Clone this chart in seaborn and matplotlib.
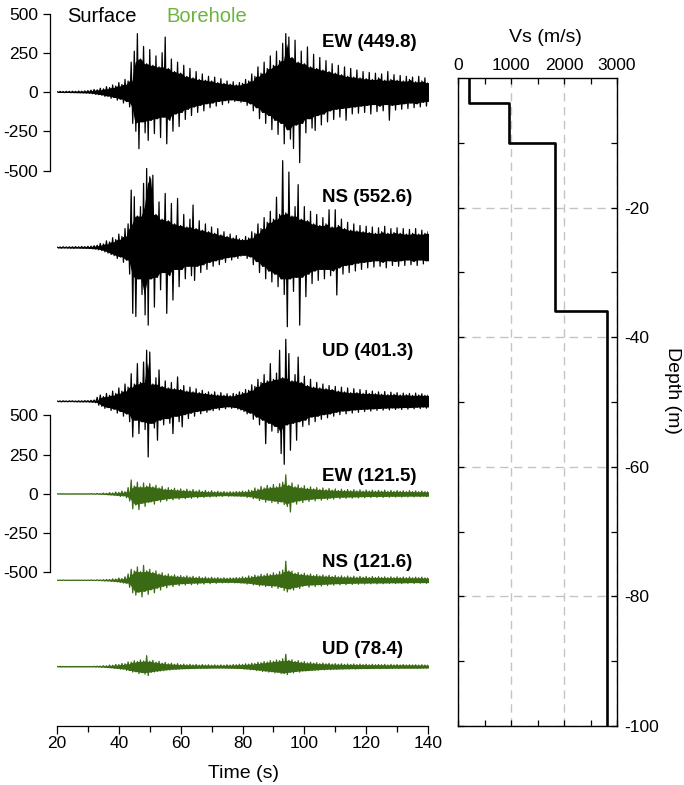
import numpy as np
import pandas as pd
import matplotlib
matplotlib.use("Agg")
import matplotlib.pyplot as plt
import seaborn as sns

sns.set_theme(style="ticks")
plt.rcParams["font.family"] = ["Liberation Sans", "DejaVu Sans"]
plt.rcParams["axes.unicode_minus"] = False
for key in ("text.color", "axes.labelcolor", "xtick.color", "ytick.color", "axes.edgecolor"):
    plt.rcParams[key] = "black"

# ---------------------------------------------------------------------------
# Acceleration records (gal): largest positive ("up") and negative ("lo")
# excursion in each second from 20 s to 140 s.
# ---------------------------------------------------------------------------
time_s = np.arange(20, 141)

ew_surf_up = [3, 4, 3, 4, 4, 5, 4, 6, 5, 7,
              9, 12, 16, 14, 24, 20, 34, 28, 45, 38,
              60, 48, 80, 70, 190, 260, 372, 210, 290, 180,
              270, 170, 230, 160, 250, 350, 150, 210, 130, 190,
              120, 170, 100, 150, 90, 130, 80, 115, 75, 100,
              70, 95, 60, 85, 55, 70, 50, 65, 45, 60,
              55, 80, 70, 115, 100, 160, 120, 190, 150, 230,
              170, 260, 200, 310, 372, 350, 220, 330, 190, 260,
              180, 287, 160, 240, 150, 220, 140, 200, 130, 180,
              120, 170, 110, 160, 100, 150, 95, 140, 90, 130,
              85, 125, 80, 120, 90, 115, 75, 130, 80, 110,
              75, 105, 70, 100, 80, 95, 65, 100, 70, 90,
              60]
ew_surf_lo = [3, 3, 4, 3, 5, 4, 5, 5, 6, 6,
              8, 11, 14, 17, 20, 28, 26, 40, 35, 52,
              45, 70, 60, 95, 200, 250, 361, 190, 260, 308,
              180, 265, 170, 290, 160, 330, 180, 250, 140, 220,
              130, 175, 110, 150, 95, 130, 85, 120, 75, 100,
              70, 90, 60, 80, 55, 70, 50, 60, 55, 65,
              60, 85, 75, 120, 100, 170, 130, 200, 150, 240,
              180, 270, 200, 330, 240, 300, 360, 210, 449.8, 200,
              260, 170, 230, 245, 150, 210, 140, 190, 120, 175,
              110, 160, 105, 180, 100, 140, 95, 135, 90, 130,
              85, 140, 80, 125, 90, 120, 80, 180, 85, 115,
              80, 110, 75, 105, 70, 100, 75, 95, 65, 90,
              60]

ns_surf_up = [3, 3, 4, 3, 4, 4, 5, 4, 6, 5,
              7, 8, 11, 14, 25, 22, 42, 35, 62, 50,
              85, 70, 120, 150, 365, 323, 200, 260, 408, 503,
              450, 460, 210, 290, 180, 344, 170, 280, 150, 312,
              140, 210, 130, 180, 270, 120, 170, 110, 150, 100,
              130, 90, 120, 80, 100, 70, 85, 60, 75, 55,
              50, 70, 60, 100, 90, 150, 120, 190, 160, 230,
              180, 320, 210, 552.6, 220, 480, 200, 260, 400, 180,
              260, 170, 230, 150, 210, 140, 190, 150, 240, 130,
              240, 140, 180, 120, 160, 110, 150, 105, 140, 100,
              135, 95, 130, 90, 125, 100, 135, 90, 120, 95,
              125, 90, 120, 85, 115, 90, 120, 85, 110, 90,
              100]
ns_surf_lo = [3, 4, 3, 4, 4, 5, 4, 5, 5, 6,
              7, 9, 10, 15, 20, 28, 36, 45, 52, 70,
              60, 95, 80, 170, 420, 440, 200, 300, 430, 495,
              200, 380, 190, 270, 160, 420, 180, 335, 140, 250,
              140, 200, 120, 180, 210, 120, 160, 110, 140, 95,
              120, 85, 110, 75, 95, 65, 80, 60, 70, 55,
              50, 70, 60, 110, 90, 160, 120, 200, 150, 220,
              170, 250, 200, 300, 505, 200, 280, 190, 495, 190,
              314, 170, 230, 150, 210, 140, 200, 140, 180, 150,
              303, 130, 170, 115, 160, 110, 150, 100, 140, 95,
              130, 90, 125, 85, 120, 95, 130, 85, 115, 90,
              120, 85, 115, 80, 110, 90, 115, 80, 105, 85,
              95]

ud_surf_up = [2, 2, 3, 2, 3, 3, 2, 3, 3, 4,
              4, 6, 8, 25, 40, 30, 50, 38, 65, 50,
              85, 65, 110, 90, 176, 110, 240, 120, 250, 325,
              314, 110, 150, 200, 95, 130, 85, 120, 80, 155,
              75, 100, 65, 90, 60, 80, 55, 70, 50, 60,
              45, 60, 40, 55, 38, 48, 35, 50, 45, 60,
              55, 75, 70, 105, 95, 140, 120, 170, 130, 240,
              140, 180, 325, 150, 395, 304, 130, 170, 282, 120,
              160, 100, 140, 90, 120, 85, 110, 80, 100, 75,
              95, 65, 90, 60, 85, 55, 80, 55, 75, 50,
              70, 50, 65, 48, 60, 45, 62, 42, 58, 45,
              55, 40, 52, 42, 50, 38, 52, 40, 48, 38,
              40]
ud_surf_lo = [2, 3, 2, 3, 2, 3, 3, 3, 4, 3,
              5, 5, 9, 25, 32, 45, 40, 58, 50, 75,
              65, 95, 80, 130, 227, 120, 206, 130, 180, 355,
              140, 170, 248, 120, 150, 110, 140, 206, 95, 130,
              163, 85, 110, 75, 95, 65, 80, 60, 70, 55,
              60, 45, 55, 40, 48, 35, 45, 40, 50, 55,
              65, 80, 75, 115, 100, 150, 120, 270, 140, 190,
              160, 200, 333, 401.3, 150, 312, 140, 248, 130, 160,
              120, 150, 100, 130, 95, 115, 85, 105, 80, 95,
              70, 85, 62, 80, 60, 75, 55, 70, 52, 65,
              50, 62, 48, 58, 46, 56, 44, 55, 42, 52,
              42, 52, 40, 50, 40, 48, 38, 46, 36, 44,
              36]

ew_bore_up = [1, 1, 1, 1, 1, 1, 1, 1, 1, 1,
              1, 2, 1, 3, 2, 5, 4, 8, 6, 12,
              10, 18, 14, 40, 89, 50, 75, 45, 70, 50,
              65, 45, 55, 38, 48, 30, 40, 28, 36, 25,
              32, 22, 30, 20, 28, 18, 24, 16, 22, 14,
              20, 13, 17, 12, 15, 11, 14, 12, 15, 14,
              18, 15, 25, 22, 38, 30, 48, 38, 55, 42,
              60, 45, 65, 75, 121.5, 55, 70, 45, 58, 40,
              52, 35, 45, 32, 40, 28, 38, 26, 35, 24,
              32, 22, 30, 21, 28, 20, 27, 19, 26, 18,
              25, 18, 24, 17, 23, 17, 24, 16, 22, 16,
              21, 16, 20, 15, 21, 15, 19, 14, 18, 14,
              16]
ew_bore_lo = [1, 1, 1, 1, 1, 1, 1, 1, 1, 1,
              1, 1, 2, 2, 3, 4, 6, 6, 9, 10,
              16, 12, 24, 45, 95, 70, 100, 60, 80, 55,
              50, 65, 42, 50, 35, 44, 30, 38, 26, 34,
              24, 30, 22, 28, 18, 25, 17, 22, 15, 20,
              14, 18, 12, 16, 11, 15, 12, 14, 13, 16,
              14, 22, 18, 30, 26, 42, 34, 52, 40, 55,
              46, 62, 50, 68, 80, 115, 52, 65, 44, 55,
              38, 48, 34, 44, 30, 40, 28, 36, 26, 33,
              22, 30, 21, 28, 20, 27, 19, 25, 18, 24,
              17, 23, 16, 22, 16, 22, 16, 21, 15, 20,
              15, 20, 15, 19, 14, 19, 14, 18, 14, 17,
              15]

ns_bore_up = [1, 1, 1, 1, 1, 1, 1, 1, 1, 1,
              1, 2, 1, 3, 2, 4, 5, 5, 9, 8,
              14, 11, 22, 40, 70, 60, 85, 55, 95, 60,
              70, 50, 60, 40, 48, 32, 40, 28, 35, 25,
              30, 22, 28, 20, 25, 18, 23, 16, 21, 15,
              19, 14, 17, 13, 16, 13, 15, 14, 17, 16,
              22, 18, 28, 24, 33, 28, 38, 32, 42, 36,
              48, 40, 55, 65, 121.6, 60, 58, 44, 50, 38,
              45, 34, 40, 30, 36, 28, 34, 26, 32, 24,
              30, 22, 28, 21, 27, 20, 26, 19, 25, 19,
              24, 18, 24, 18, 23, 18, 22, 17, 22, 17,
              22, 17, 21, 16, 21, 16, 20, 16, 20, 15,
              17]
ns_bore_lo = [1, 1, 1, 1, 1, 1, 1, 1, 1, 1,
              1, 1, 2, 2, 3, 4, 4, 7, 7, 11,
              12, 18, 18, 45, 80, 95, 75, 106, 70, 90,
              60, 80, 50, 62, 38, 48, 30, 40, 26, 34,
              22, 30, 20, 28, 18, 26, 17, 24, 15, 22,
              14, 19, 13, 17, 13, 16, 13, 17, 15, 18,
              17, 24, 20, 30, 26, 36, 30, 40, 34, 46,
              36, 52, 45, 65, 74, 55, 62, 45, 52, 40,
              33, 44, 30, 40, 28, 37, 26, 34, 24, 31,
              22, 29, 21, 28, 20, 26, 19, 25, 18, 24,
              18, 23, 17, 23, 17, 22, 17, 21, 16, 21,
              16, 21, 16, 20, 15, 20, 15, 19, 15, 19,
              15]

ud_bore_up = [1, 1, 1, 1, 1, 1, 1, 1, 1, 1,
              1, 1, 2, 3, 3, 6, 5, 10, 9, 14,
              13, 20, 18, 30, 28, 38, 33, 42, 36, 70,
              34, 40, 28, 34, 22, 27, 18, 22, 15, 19,
              13, 16, 12, 15, 11, 14, 10, 13, 10, 12,
              9, 11, 9, 11, 9, 12, 10, 13, 12, 15,
              14, 18, 16, 22, 20, 28, 25, 32, 29, 38,
              34, 42, 38, 50, 78.4, 40, 44, 33, 38, 28,
              32, 24, 28, 22, 25, 19, 23, 18, 21, 16,
              19, 15, 18, 14, 17, 14, 17, 13, 16, 13,
              15, 12, 15, 12, 14, 12, 14, 11, 14, 11,
              13, 11, 13, 11, 12, 11, 12, 10, 12, 10,
              11]
ud_bore_lo = [1, 1, 1, 1, 1, 1, 1, 1, 1, 1,
              1, 1, 2, 2, 4, 5, 7, 8, 11, 12,
              16, 15, 24, 25, 35, 32, 44, 38, 48, 57,
              36, 34, 30, 27, 26, 21, 22, 17, 18, 15,
              15, 13, 14, 12, 13, 11, 12, 10, 11, 10,
              10, 9, 10, 9, 10, 10, 11, 11, 13, 12,
              16, 15, 20, 19, 25, 23, 31, 28, 35, 32,
              40, 36, 44, 42, 51, 36, 40, 31, 35, 27,
              28, 25, 25, 22, 23, 19, 21, 17, 19, 16,
              17, 15, 16, 14, 16, 13, 15, 13, 14, 12,
              13, 12, 13, 11, 13, 11, 12, 11, 12, 10,
              12, 10, 11, 10, 11, 10, 11, 10, 10, 9,
              10]

components = ["EW", "NS", "UD"]
surface_peak = [449.8, 552.6, 401.3]
borehole_peak = [121.5, 121.6, 78.4]
surface_env = [(ew_surf_up, ew_surf_lo), (ns_surf_up, ns_surf_lo), (ud_surf_up, ud_surf_lo)]
borehole_env = [(ew_bore_up, ew_bore_lo), (ns_bore_up, ns_bore_lo), (ud_bore_up, ud_bore_lo)]

# Vertical stacking of the six records (gal units on a common scale)
surface_offset = [0, -990, -1970]
borehole_offset = [-2560, -3110, -3660]

# Shear-wave velocity profile
layer_top = [0, -3.9, -10, -36]
layer_bottom = [-3.9, -10, -36, -100]
layer_vs = [210, 960, 1830, 2820]

surface_color = "black"
borehole_color = "#3b6a14"
borehole_title_color = "#6cb33f"
trace_lw = 0.9


def trace_frame(up, lo, offset):
    """Alternate positive and negative excursions along the time axis."""
    t = np.repeat(time_s, 2).astype(float)
    t[1::2] += 0.5
    amp = np.empty(t.size)
    amp[0::2] = np.asarray(up, dtype=float)
    amp[1::2] = -np.asarray(lo, dtype=float)
    return pd.DataFrame({"time": t, "amp": amp + offset})


def draw_trace(ax, up, lo, offset, color):
    # dense body of the record: the envelope without its isolated peaks
    core_up = pd.Series(up, dtype=float).rolling(3, center=True, min_periods=1).min()
    core_lo = pd.Series(lo, dtype=float).rolling(3, center=True, min_periods=1).min()
    ax.fill_between(time_s + 0.25, offset - core_lo.to_numpy(), offset + core_up.to_numpy(),
                    color=color, linewidth=0)
    sns.lineplot(data=trace_frame(up, lo, offset), x="time", y="amp", sort=False,
                 estimator=None, color=color, linewidth=trace_lw, ax=ax)


W, H = 684, 785


def rect(left, top, right, bottom):
    return [left / W, 1 - bottom / H, (right - left) / W, (bottom - top) / H]


fig = plt.figure(figsize=(W / 100, H / 100), dpi=100)

# ------------------------------ waveforms ---------------------------------
units_per_px = 1000 / 157
ax = fig.add_axes(rect(57, 10, 428, 726))
ylim = (-(726 - 92) * units_per_px, (92 - 10) * units_per_px)

for (up, lo), off, comp, pk in zip(surface_env, surface_offset, components, surface_peak):
    draw_trace(ax, up, lo, off, surface_color)
    ax.text(105.7, off + 315, f"{comp} ({pk})", fontsize=13.5, fontweight="bold",
            ha="left", va="center")

for (up, lo), off, comp, pk in zip(borehole_env, borehole_offset, components, borehole_peak):
    draw_trace(ax, up, lo, off, borehole_color)
    ax.text(105.7, off + 112, f"{comp} ({pk})", fontsize=13.5, fontweight="bold",
            ha="left", va="center")

ax.set_xlim(20, 140)
ax.set_ylim(*ylim)
ax.set_xlabel("")
ax.set_ylabel("")
ax.patch.set_visible(False)
for side in ("top", "right"):
    ax.spines[side].set_visible(False)
ax.spines["left"].set_position(("outward", 5))
ax.spines["left"].set_bounds(-500, 500)
ax.spines["bottom"].set_bounds(20, 140)
for side in ("left", "bottom"):
    ax.spines[side].set_linewidth(0.9)

amp_ticks = [500, 250, 0, -250, -500]
amp_labels = ["500", "250", "0", "-250", "-500"]
ax.set_yticks(amp_ticks, amp_labels)
ax.set_xticks([20, 40, 60, 80, 100, 120, 140], ["20", "40", "60", "80", "100", "120", "140"])
ax.set_xticks([30, 50, 70, 90, 110, 130], minor=True)
ax.tick_params(axis="y", direction="out", length=5, width=0.9, labelsize=12.5, pad=3.5)
ax.tick_params(axis="x", which="major", direction="out", length=6, width=0.9,
               labelsize=12.5, pad=1.5)
ax.tick_params(axis="x", which="minor", direction="out", length=4, width=0.9)

# second amplitude scale for the borehole records
ax_b = fig.add_axes(rect(57, 10, 428, 726), label="borehole-scale")
ax_b.set_xlim(20, 140)
ax_b.set_ylim(*ylim)
ax_b.patch.set_visible(False)
for side in ("top", "right", "bottom"):
    ax_b.spines[side].set_visible(False)
ax_b.spines["left"].set_position(("outward", 5))
ax_b.spines["left"].set_bounds(borehole_offset[0] - 500, borehole_offset[0] + 500)
ax_b.spines["left"].set_linewidth(0.9)
ax_b.set_xticks([])
ax_b.set_yticks([borehole_offset[0] + v for v in amp_ticks], amp_labels)
ax_b.tick_params(axis="y", direction="out", length=5, width=0.9, labelsize=12.5, pad=3.5)

fig.text(243 / W, 1 - 773 / H, "Time (s)", fontsize=14, ha="center", va="center")
fig.text(67 / W, 1 - 17 / H, "Surface", fontsize=14.5, color=surface_color,
         ha="left", va="center")
fig.text(166 / W, 1 - 17 / H, "Borehole", fontsize=14.5, color=borehole_title_color,
         ha="left", va="center")

# ---------------------------- Vs profile ----------------------------------
axv = fig.add_axes(rect(458, 78, 617, 726))
prof_x, prof_y = [], []
for top, bot, vs in zip(layer_top, layer_bottom, layer_vs):
    prof_x += [vs, vs]
    prof_y += [top, bot]
profile = pd.DataFrame({"vs": prof_x, "depth": prof_y})
sns.lineplot(data=profile, x="vs", y="depth", sort=False, estimator=None,
             color="black", linewidth=1.9, ax=axv)

axv.set_xlim(0, 3000)
axv.set_ylim(-100, 0)
axv.set_xlabel("")
axv.set_ylabel("")
axv.xaxis.tick_top()
axv.yaxis.tick_right()
axv.set_xticks([0, 1000, 2000, 3000], ["0", "1000", "2000", "3000"])
axv.set_xticks([500, 1500, 2500], minor=True)
axv.set_yticks([-100, -80, -60, -40, -20], ["-100", "-80", "-60", "-40", "-20"])
axv.set_yticks([-90, -70, -50, -30, -10], minor=True)
axv.tick_params(which="both", direction="in", length=4, width=0.9,
                top=True, bottom=True, left=True, right=True,
                labeltop=True, labelbottom=False, labelleft=False, labelright=True,
                labelsize=12.5)
axv.tick_params(axis="x", pad=3.5)
axv.tick_params(axis="y", pad=5)
axv.grid(True, which="major", color="#c4c4c4", linestyle=(0, (6, 4)), linewidth=1.0)
for side in axv.spines.values():
    side.set_linewidth(1.0)

fig.text(545 / W, 1 - 38 / H, "Vs (m/s)", fontsize=14, ha="center", va="center")
fig.text(673 / W, 1 - 390 / H, "Depth (m)", fontsize=14, rotation=270,
         ha="center", va="center")

fig.savefig("out.png", dpi=100)
